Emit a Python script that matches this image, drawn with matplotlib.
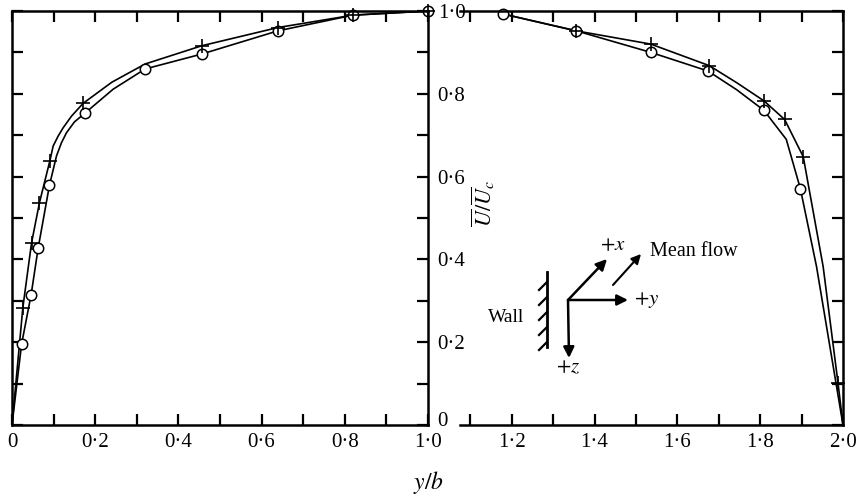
import matplotlib
matplotlib.use("Agg")
import matplotlib.pyplot as plt
import matplotlib.transforms as mtransforms
import numpy as np

plt.rcParams['font.family'] = ['Liberation Serif', 'DejaVu Serif']
plt.rcParams['mathtext.fontset'] = 'stix'

# left half (wall at y/b = 0 to centre at 1.0)
left_plus_x = [0.026, 0.047, 0.066, 0.091, 0.171, 0.456, 0.639, 0.82, 1.0]
left_plus_y = [0.283, 0.440, 0.537, 0.638, 0.777, 0.916, 0.960, 0.990, 1.0]
left_circ_x = [0.023, 0.046, 0.063, 0.090, 0.175, 0.32, 0.456, 0.639, 0.82, 1.0]
left_circ_y = [0.195, 0.315, 0.428, 0.579, 0.753, 0.860, 0.896, 0.952, 0.990, 1.0]
# faired curves
left_plus_curve_x = [0.0, 0.026, 0.047, 0.066, 0.091, 0.099, 0.111, 0.123, 0.143, 0.171, 0.24, 0.32, 0.456, 0.639, 0.82, 1.0]
left_plus_curve_y = [0.0, 0.283, 0.440, 0.537, 0.638, 0.674, 0.698, 0.718, 0.746, 0.777, 0.828, 0.872, 0.916, 0.960, 0.990, 1.0]
left_circ_curve_x = [0.0, 0.023, 0.046, 0.063, 0.090, 0.107, 0.119, 0.131, 0.150, 0.175, 0.243, 0.32, 0.456, 0.639, 0.82, 1.0]
left_circ_curve_y = [0.0, 0.195, 0.315, 0.428, 0.579, 0.650, 0.682, 0.706, 0.732, 0.753, 0.811, 0.860, 0.896, 0.952, 0.990, 1.0]

# right half (centre to far wall at 2.0)
right_plus_x = [1.356, 1.536, 1.677, 1.809, 1.859, 1.904, 1.988]
right_plus_y = [0.952, 0.920, 0.868, 0.783, 0.738, 0.648, 0.101]
right_circ_x = [1.178, 1.356, 1.536, 1.674, 1.809, 1.897]
right_circ_y = [0.993, 0.952, 0.900, 0.855, 0.760, 0.571]
right_plus_curve_x = [1.178, 1.356, 1.536, 1.677, 1.743, 1.809, 1.859, 1.904, 1.952, 1.988, 2.0]
right_plus_curve_y = [0.993, 0.952, 0.920, 0.868, 0.827, 0.783, 0.738, 0.648, 0.383, 0.101, 0.0]
right_circ_curve_x = [1.178, 1.356, 1.536, 1.674, 1.743, 1.809, 1.863, 1.897, 1.936, 2.0]
right_circ_curve_y = [0.993, 0.952, 0.900, 0.855, 0.810, 0.760, 0.690, 0.571, 0.383, 0.0]

left_xticks = [0, 0.2, 0.4, 0.6, 0.8, 1.0]
left_xticklabels = ['0', '0·2', '0·4', '0·6', '0·8', '1·0']
right_xticks = [1.2, 1.4, 1.6, 1.8, 2.0]
right_xticklabels = ['1·2', '1·4', '1·6', '1·8', '2·0']
yticks = [0, 0.2, 0.4, 0.6, 0.8, 1.0]
yticklabels = ['0', '0·2', '0·4', '0·6', '0·8', '1·0']

fig = plt.figure(figsize=(8.56, 5.0), dpi=100)
W, H = 856.0, 500.0
ax2 = fig.add_axes([460 / W, 75 / H, 383 / W, 414 / H])
ax1 = fig.add_axes([12 / W, 75 / H, 416 / W, 414 / H])
ax2.patch.set_visible(False)

lw = 1.2
spine_w = 1.8
for ax in (ax1, ax2):
    for s in ax.spines.values():
        s.set_linewidth(spine_w)
    ax.set_ylim(0, 1.0)
    ax.set_yticks(yticks)
    ax.set_yticks(np.arange(0.1, 1.0, 0.2), minor=True)
    ax.tick_params(which='both', direction='in', length=8, width=1.6,
                   top=True, bottom=True, labelsize=15)
    ax.tick_params(axis='x', pad=6)

ax1.plot(left_plus_curve_x, left_plus_curve_y, color='black', lw=lw)
ax1.plot(left_circ_curve_x, left_circ_curve_y, color='black', lw=lw)
ax1.plot(left_circ_x, left_circ_y, 'o', mfc='white', mec='black', ms=7.5, mew=1.1, clip_on=False)
ax1.plot(left_plus_x, left_plus_y, '+', color='black', ms=10, mew=1.2, clip_on=False)
ax1.set_xlim(0, 1.0)
ax1.set_xticks(left_xticks)
ax1.set_xticklabels(left_xticklabels)
ax1.set_xticks(np.arange(0.1, 1.0, 0.2), minor=True)
ax1.set_yticklabels(yticklabels)
ax1.tick_params(axis='y', which='both', left=True, right=True, labelleft=False, labelright=True, pad=7)
# the '0' on the value scale sits a little above the corner
zero_lab = ax1.get_yticklabels()[0]
zero_lab.set_transform(zero_lab.get_transform() +
                       mtransforms.ScaledTranslation(0, 6 / 100, fig.dpi_scale_trans))

ax2.plot(right_plus_curve_x, right_plus_curve_y, color='black', lw=lw)
ax2.plot(right_circ_curve_x, right_circ_curve_y, color='black', lw=lw)
ax2.plot(right_circ_x, right_circ_y, 'o', mfc='white', mec='black', ms=7.5, mew=1.1, clip_on=False)
ax2.plot(right_plus_x, right_plus_y, '+', color='black', ms=10, mew=1.2, clip_on=False)
ax2.set_xlim(1.075, 2.0)
ax2.set_xticks(right_xticks)
ax2.set_xticklabels(right_xticklabels)
ax2.set_xticks([1.1, 1.3, 1.5, 1.7, 1.9], minor=True)
ax2.spines['left'].set_visible(False)
ax2.tick_params(axis='y', which='both', left=False, right=True, labelleft=False, labelright=False)

fig.text(483 / W, 1 - 203 / H, r'$\overline{U}/\overline{U}_c$', rotation=90,
         ha='center', va='center', fontsize=16)
fig.text(428 / W, 1 - 482 / H, r'$y/b$', ha='center', va='center', fontsize=17)

# sketch of the coordinate system
ov = fig.add_axes([0, 0, 1, 1])
ov.set_xlim(0, W)
ov.set_ylim(H, 0)
ov.axis('off')
arrow = dict(arrowstyle='-|>', mutation_scale=16, lw=1.8, color='black', shrinkA=0, shrinkB=0)
ox, oy = 568, 300
ov.annotate('', xy=(607, 259), xytext=(ox, oy), arrowprops=arrow)
ov.annotate('', xy=(628, 300), xytext=(ox, oy), arrowprops=arrow)
ov.annotate('', xy=(569, 358), xytext=(ox, oy), arrowprops=arrow)
ov.annotate('', xy=(641, 254), xytext=(613, 285), arrowprops=dict(arrowstyle='-|>', mutation_scale=14, lw=1.5, color='black', shrinkA=0, shrinkB=0))
ov.plot([547, 547], [272, 347], color='black', lw=2)
for hy in [282, 297, 312, 327, 342]:
    ov.plot([547, 539], [hy, hy + 8], color='black', lw=1.6)
ov.text(506, 317, 'Wall', ha='center', va='center', fontsize=14)
ov.text(613, 246, r'$+x$', ha='center', va='center', fontsize=15)
ov.text(650, 252, 'Mean flow', ha='left', va='center', fontsize=14.5)
ov.text(647, 300, r'$+y$', ha='center', va='center', fontsize=15)
ov.text(568, 368, r'$+z$', ha='center', va='center', fontsize=15)

fig.savefig('out.png', dpi=100)
